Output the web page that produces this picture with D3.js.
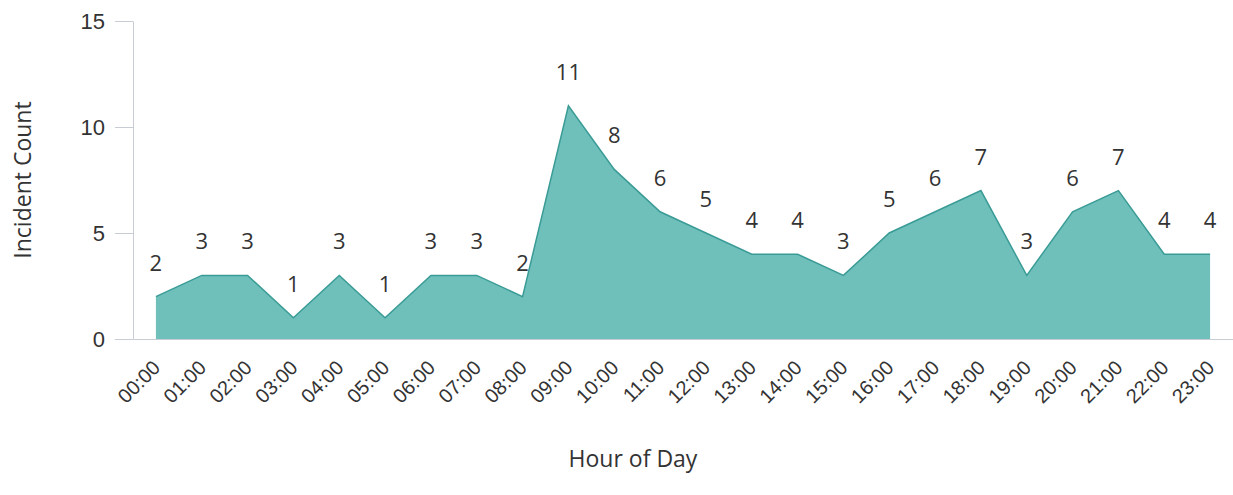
<!DOCTYPE html>
<html>
<head>
<meta charset="utf-8">
<script src="https://cdn.jsdelivr.net/npm/d3@7.9.0/dist/d3.min.js"></script>
<style>
  body { margin: 0; background: #fff; }
  svg { display: block; font-family: 'Open Sans', sans-serif; }
</style>
</head>
<body>
<svg id="chart" width="1233" height="495"></svg>
<script>
const hours = ['00:00','01:00','02:00','03:00','04:00','05:00','06:00','07:00','08:00','09:00','10:00','11:00',
  '12:00','13:00','14:00','15:00','16:00','17:00','18:00','19:00','20:00','21:00','22:00','23:00'];
const counts = [2,3,3,1,3,1,3,3,2,11,8,6,5,4,4,3,5,6,7,3,6,7,4,4];
const yTicks = [0, 5, 10, 15];

const margin = { top: 21, right: 0, bottom: 156, left: 133 };
const width = 1233, height = 495;

const svg = d3.select('#chart');

const x = d3.scalePoint()
  .domain(hours)
  .range([margin.left, width - margin.right])
  .padding(0.5);

const y = d3.scaleLinear()
  .domain([0, 15])
  .range([height - margin.bottom, margin.top]);

const data = hours.map((h, i) => ({ hour: h, count: counts[i] }));

// area + outline
const area = d3.area()
  .x((d) => x(d.hour))
  .y0(y(0))
  .y1((d) => y(d.count));

svg.append('path')
  .datum(data)
  .attr('d', area)
  .attr('fill', '#6fc0bb');

const line = d3.line()
  .x((d) => x(d.hour))
  .y((d) => y(d.count));

svg.append('path')
  .datum(data)
  .attr('d', line)
  .attr('fill', 'none')
  .attr('stroke', '#3a9b96')
  .attr('stroke-width', 1.5);

// axes
const xAxis = svg.append('g')
  .attr('transform', `translate(0,${y(0)})`)
  .call(d3.axisBottom(x).tickSize(0).tickSizeOuter(0));
xAxis.select('.domain').attr('stroke', '#c8ccd4');
xAxis.selectAll('text')
  .attr('font-size', 20)
  .attr('fill', '#333')
  .attr('text-anchor', 'end')
  .attr('y', 0)
  .attr('dy', 0)
  .attr('transform', 'translate(5,30) rotate(-45)');

const yAxis = svg.append('g')
  .attr('transform', `translate(${margin.left},0)`)
  .call(d3.axisLeft(y).tickValues(yTicks).tickSize(18).tickSizeOuter(0).tickPadding(10));
yAxis.select('.domain').attr('stroke', '#c8ccd4');
yAxis.selectAll('line').attr('stroke', '#c8ccd4');
yAxis.selectAll('text').attr('font-size', 22).attr('fill', '#333');

// value labels
svg.append('g')
  .selectAll('text')
  .data(data)
  .join('text')
  .attr('x', (d) => x(d.hour))
  .attr('y', (d) => y(d.count) - 26)
  .attr('text-anchor', 'middle')
  .attr('font-size', 22)
  .attr('fill', '#333')
  .text((d) => d.count);

// titles
svg.append('text')
  .attr('transform', `translate(31,${(margin.top + y(0)) / 2}) rotate(-90)`)
  .attr('text-anchor', 'middle')
  .attr('font-size', 23)
  .attr('fill', '#333')
  .text('Incident Count');

svg.append('text')
  .attr('x', 633)
  .attr('y', 467)
  .attr('text-anchor', 'middle')
  .attr('font-size', 23)
  .attr('fill', '#333')
  .text('Hour of Day');
</script>
</body>
</html>
